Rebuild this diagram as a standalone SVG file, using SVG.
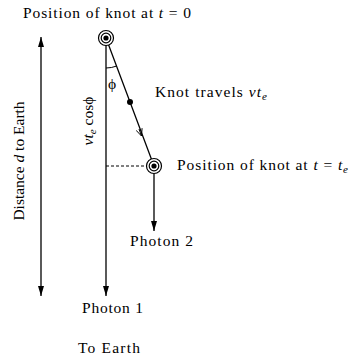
<svg xmlns="http://www.w3.org/2000/svg" width="351" height="358" viewBox="0 0 351 358">
<style>
text{font-family:"Liberation Serif","DejaVu Serif",serif;font-size:15.5px;fill:#000}
.i{font-style:italic}
.s{font-size:11px;font-style:italic}
.ln{stroke:#000;stroke-width:1.3;fill:none}
</style>
<defs>
<marker id="ah" viewBox="0 0 10 6" refX="10" refY="3" markerWidth="10" markerHeight="6" markerUnits="userSpaceOnUse" orient="auto-start-reverse">
<path d="M0,0 L10,3 L0,6 Z" fill="#000"/>
</marker>
<marker id="ch" viewBox="0 0 10 8" refX="9" refY="4" markerWidth="8" markerHeight="7" markerUnits="userSpaceOnUse" orient="auto">
<path d="M0,0 L9,4 L0,8" fill="none" stroke="#000" stroke-width="1.1"/>
</marker>
</defs>
<rect width="351" height="358" fill="#fff"/>
<g id="connectors">
<line class="ln" x1="41" y1="37" x2="41" y2="296" marker-start="url(#ah)" marker-end="url(#ah)"/>
<line class="ln" x1="106" y1="45" x2="106" y2="296" marker-end="url(#ah)"/>
<line class="ln" x1="106" y1="38" x2="154" y2="166" stroke-width="1.1"/>
<path d="M139,129 L141.5,136" fill="none" stroke="#000" stroke-width="1" marker-end="url(#ch)"/>
<line class="ln" x1="154" y1="174" x2="154" y2="231" marker-end="url(#ah)"/>
<line x1="106" y1="166" x2="146" y2="166" stroke="#000" stroke-width="1" stroke-dasharray="3,2"/>
<path d="M106,68 A30,30 0 0 0 116.5,66.1" fill="none" stroke="#000" stroke-width="1"/>
<circle cx="130" cy="102" r="3" fill="#000"/>
</g>
<g id="knot0">
<circle cx="106" cy="38" r="7.5" fill="#fff" stroke="#000" stroke-width="1.2"/>
<circle cx="106" cy="38" r="4.8" fill="none" stroke="#000" stroke-width="1.2"/>
<circle cx="106" cy="38" r="2.6" fill="#000"/>
<text x="23" y="18" textLength="168" lengthAdjust="spacing">Position of knot at <tspan class="i">t</tspan> = 0</text>
</g>
<g id="knot1">
<circle cx="154" cy="166" r="7.5" fill="#fff" stroke="#000" stroke-width="1.2"/>
<circle cx="154" cy="166" r="4.8" fill="none" stroke="#000" stroke-width="1.2"/>
<circle cx="154" cy="166" r="2.6" fill="#000"/>
<text x="177" y="170" textLength="171" lengthAdjust="spacing">Position of knot at <tspan class="i">t</tspan> = <tspan class="i">t</tspan><tspan class="s" dy="3">e</tspan></text>
</g>
<g id="labels">
<text x="155" y="97" textLength="112" lengthAdjust="spacing">Knot travels <tspan class="i">vt</tspan><tspan class="s" dy="3">e</tspan></text>
<text x="108" y="89" font-size="18">ϕ</text>
<text transform="translate(93,121) rotate(-90)" text-anchor="middle" font-size="14.5"><tspan class="i">vt</tspan><tspan class="s" dy="3">e</tspan><tspan dy="-3"> cosϕ</tspan></text>
<text transform="translate(24,161) rotate(-90)" text-anchor="middle">Distance <tspan class="i">d</tspan> to Earth</text>
<text x="130" y="246" textLength="63" lengthAdjust="spacing">Photon 2</text>
<text x="82" y="313" textLength="61" lengthAdjust="spacing">Photon 1</text>
<text x="78" y="353" textLength="62" lengthAdjust="spacing">To Earth</text>
</g>
</svg>
